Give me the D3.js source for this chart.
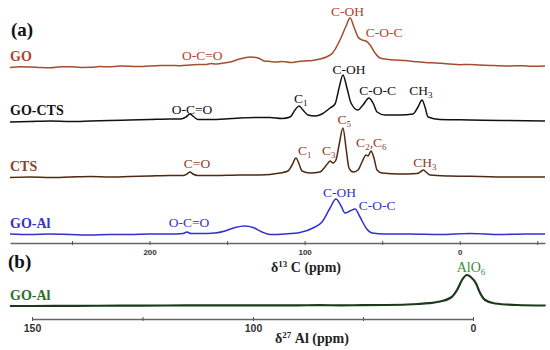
<!DOCTYPE html>
<html>
<head>
<meta charset="utf-8">
<script src="https://cdn.jsdelivr.net/npm/d3@7/dist/d3.min.js"></script>
<style>
    html, body { margin: 0; padding: 0; background: #fff; }
    svg { display: block; }
</style>
</head>
<body>
<div id="chart"></div>
<script>

// [ppm, intensity]
var goSpec = [
    [290, -0.5], [283, 0.3], [277, 0], [270, -0.6], [264, -0.8], [257, 0.2], [251, 0.3], [244, -0.4],
    [238, -0.3], [232, 0.4], [226, 0.2], [219, 0.9], [213, 0.8], [206, 0.4], [200, 1], [193, 1.5],
    [187, 1.6], [180, 1.2], [174, 2], [168, 2.4], [164, 2.5], [160, 3.6], [158, 3], [153, 3.8],
    [148, 5], [142, 8], [135, 10], [130, 9], [126, 6], [122, 5.5], [119, 5], [114, 5.5],
    [109, 4.5], [104, 5.5], [100, 6], [95, 6.5], [90, 8], [86, 10], [82, 14], [77.2, 27],
    [73.3, 41], [70.7, 49], [68.2, 40], [65.6, 30], [63, 27], [60.4, 26], [57.8, 22], [54.6, 14],
    [51.4, 9], [46, 7.5], [41.7, 7], [35, 6.5], [30, 5.5], [25.6, 5], [18, 4.2], [12, 3.8],
    [6.2, 3], [0, 2.3], [-6, 2.6], [-13, 2], [-20, 1.6], [-26, 1.2], [-32.5, 1], [-40, 1.3],
    [-47, 0.8], [-55, 1]
];

var goCtsSpec = [
    [290, -1], [277, -0.5], [264, 0], [251, -0.5], [238, 0], [226, 0.5], [213, 1], [200, 1.5],
    [187, 2], [180, 2], [176.5, 4], [173.9, 7], [171.3, 4], [168.8, 1.5], [161, 1.5], [151.3, 2],
    [141.7, 3], [132, 3.5], [122.3, 3.5], [114.6, 2.5], [109.4, 4], [106.2, 11], [103.6, 15], [101.1, 11],
    [97.8, 6], [93.3, 5], [88.8, 7], [83.6, 13], [80.4, 17], [77.8, 33], [75.3, 46], [72.7, 33],
    [70.1, 18], [65.6, 11], [62.4, 16], [58.5, 23], [55.9, 18], [53.3, 9], [48.2, 6], [38.5, 6],
    [30.1, 7], [26.9, 14], [24.3, 21], [22.4, 14], [20.4, 4], [12.7, 1.5], [-6.7, 1], [-26, 0.5],
    [-55, 0]
];

var ctsSpec = [
    [290, -0.5], [277, 0], [264, -0.5], [251, 0], [238, 0.5], [226, 0], [213, 0.5], [200, 1],
    [187, 1.5], [178.4, 1.5], [175.9, 3], [173.9, 5], [172, 3], [168.8, 1.5], [157.8, 1.5], [141.7, 2],
    [128.8, 2], [115.9, 4], [110.7, 6], [108.1, 12], [105.6, 19], [103.6, 13], [101.7, 6], [96.5, 4],
    [90.1, 5], [86.9, 10], [84.9, 14], [83.6, 16], [81.7, 14], [79.8, 17], [77.8, 32], [75.3, 49],
    [73.3, 29], [71.4, 9], [68.8, 5], [65.6, 7], [63, 15], [60.4, 22], [59.1, 21], [57.2, 26],
    [55.3, 19], [53.3, 7], [50.1, 4], [38.5, 3], [27.5, 3.5], [25, 5.5], [23.6, 7], [21.7, 5],
    [19.1, 2], [6.2, 1], [-13.1, 0.5], [-32.5, 0], [-55, 0]
];

var goAlSpec = [
    [290, 0], [277, -0.5], [264, 0], [251, -0.5], [238, -1], [226, -0.5], [213, -0.5], [200, 0],
    [187, 0], [178.4, 0.5], [175.9, 2], [173.3, 0.5], [167.5, 0.5], [157.8, 1], [151.3, 3], [144.9, 6.5],
    [138.4, 8], [133.3, 6.5], [127.5, 2], [122.3, -0.5], [112.7, 0], [103, 1.5], [94.6, 6], [88.8, 12],
    [83.6, 26], [79.8, 35], [76.5, 28], [74, 21], [70.7, 23], [67.5, 25], [64.3, 17], [60.4, 6],
    [56.5, 1], [48.2, 0], [32, 0], [12.7, -0.5], [-6.7, 0.5], [-26, -0.5], [-42.1, 0], [-55, 0]
];

var alSpec = [
    [155, 0], [150, 0], [140, 0.2], [130, 0.3], [120, 0.5], [110, 0.6], [100, 0.7], [90, 0.6],
    [80, 0.7], [70, 0.8], [60, 0.7], [50, 0.8], [40, 1], [30, 1.5], [25, 2], [20, 2.8],
    [15, 4.5], [10, 8.5], [7, 17], [5, 26], [2.7, 31], [1, 29], [-1.5, 22], [-3, 14],
    [-5.5, 6], [-10, 2.5], [-20, 1], [-33, 0.5]
];

var cTicks = [250, 200, 150, 100, 50, 0, -50];
var cTickLabels = [200, 100, 0];
var alTicks = [150, 125, 100, 50, 0];
var alTickLabels = [150, 100, 0];

// name, data, label colour, line colour, baseline
var traces = [
    { name: 'GO', data: goSpec, color: '#b3422c', line: '#a44e2e', base: 67, axis: 'c' },
    { name: 'GO-CTS', data: goCtsSpec, color: '#111', line: '#111', base: 121, axis: 'c' },
    { name: 'CTS', data: ctsSpec, color: '#8b4226', line: '#4e2a12', base: 177, axis: 'c' },
    { name: 'GO-Al', data: goAlSpec, color: '#3333cc', line: '#3030d0', base: 234, axis: 'c' },
    { name: 'GO-Al', data: alSpec, color: '#2c6e2c', line: '#1a3a1a', base: 306, axis: 'al' }
];

// peak labels: trace index, text ("_" = subscript), ppm, baseline
var peakLabels = [
    [0, 'O-C=O', 166, 60], [0, 'C-OH', 72.3, 16], [0, 'C-O-C', 48.8, 37],
    [1, 'O-C=O', 172.6, 114], [1, 'C_1', 102.5, 103], [1, 'C-OH', 71.4, 74], [1, 'C-O-C', 53, 95], [1, 'CH_3', 25, 95],
    [2, 'C=O', 169.4, 168], [2, 'C_1', 100, 155], [2, 'C_3', 84.5, 155], [2, 'C_5', 74.5, 124], [2, 'C_2,C_6', 57, 147], [2, 'CH_3', 22.5, 167],
    [3, 'O-C=O', 174.6, 227], [3, 'C-OH', 77.5, 197], [3, 'C-O-C', 53.3, 210],
    [4, 'AlO_6', 0.9, 272]
];

(function () {

    var W = 550, H = 350;
    var serif = '"Liberation Serif", "Times New Roman", serif';
    var sans = '"Liberation Sans", Arial, sans-serif';

    var svg = d3.select('#chart').append('svg')
        .attr('width', W)
        .attr('height', H);

    var xC = d3.scaleLinear().domain([290, -55]).range([10, 545]);
    // the Al axis is not evenly labelled in the figure
    var xAl = d3.scaleLinear().domain([150, 100, 0]).range([32, 253, 473]);

    function xFor(t) {
        return t.axis === 'al' ? xAl : xC;
    }

    // "C_2,C_6" -> C, sub 2, ",C", sub 6
    function addText(sel, str, subSize) {
        var parts = str.split(/(_\d)/).filter(function (p) { return p; });
        var shift = 0;
        parts.forEach(function (p) {
            if (p[0] === '_') {
                sel.append('tspan').attr('font-size', subSize).attr('dy', 3).text(p.slice(1));
                shift = -3;
            } else {
                sel.append('tspan').attr('dy', shift).text(p);
                shift = 0;
            }
        });
    }

    // spectra
    traces.forEach(function (t) {
        var x = xFor(t);
        var y = d3.scaleLinear().domain([0, 50]).range([t.base, t.base - 50]);
        var line = d3.line()
            .x(function (d) { return x(d[0]); })
            .y(function (d) { return y(d[1]); })
            .curve(d3.curveMonotoneX);
        svg.append('path')
            .datum(t.data)
            .attr('d', line)
            .attr('fill', 'none')
            .attr('stroke', t.line)
            .attr('stroke-width', t.axis === 'al' ? 2.2 : 1.5)
            .attr('stroke-linejoin', 'round');

        svg.append('text')
            .attr('x', 10)
            .attr('y', t.base - 6)
            .attr('font-family', serif)
            .attr('font-weight', 'bold')
            .attr('font-size', 14)
            .attr('fill', t.color)
            .text(t.name);
    });

    peakLabels.forEach(function (p) {
        var t = traces[p[0]];
        var txt = svg.append('text')
            .attr('x', xFor(t)(p[2]))
            .attr('y', p[3])
            .attr('text-anchor', 'middle')
            .attr('font-family', serif)
            .attr('font-size', p[0] === 4 ? 14 : 13.5)
            .attr('fill', t.axis === 'al' ? '#3b8b3b' : t.color);
        addText(txt, p[1], 9);
    });

    // axes
    function drawAxis(scale, ticks, labels, yPos, fontSize) {
        var axis = d3.axisBottom(scale)
            .tickValues(ticks)
            .tickSizeOuter(0)
            .tickSizeInner(2)
            .tickPadding(4)
            .tickFormat(function (d) { return labels.indexOf(d) >= 0 ? d : ''; });
        var g = svg.append('g')
            .attr('transform', 'translate(0,' + yPos + ')')
            .call(axis);
        g.select('.domain').attr('stroke', '#666').attr('stroke-width', 1.3);
        g.selectAll('.tick line').attr('stroke', '#555').attr('y1', -2).attr('y2', 2);
        g.selectAll('.tick text')
            .attr('font-family', sans)
            .attr('font-weight', 'bold')
            .attr('font-size', fontSize)
            .attr('fill', '#333');
        return g;
    }

    drawAxis(xC, cTicks, cTickLabels, 243, 8);
    drawAxis(xAl, alTicks, alTickLabels, 319, 10.5);

    function axisTitle(xPos, yPos, sup, rest) {
        var t = svg.append('text')
            .attr('x', xPos)
            .attr('y', yPos)
            .attr('font-family', serif)
            .attr('font-weight', 'bold')
            .attr('font-size', 14)
            .attr('fill', '#222');
        t.append('tspan').text('\u03b4');
        t.append('tspan').attr('font-size', 9).attr('dy', -5).text(sup);
        t.append('tspan').attr('dy', 5).text(rest);
    }

    axisTitle(271, 272, '13', ' C (ppm)');
    axisTitle(275, 343, '27', ' Al (ppm)');

    // panel letters
    svg.append('text')
        .attr('x', 11).attr('y', 36)
        .attr('font-family', serif).attr('font-weight', 'bold').attr('font-size', 19)
        .attr('fill', '#111')
        .text('(a)');
    svg.append('text')
        .attr('x', 8).attr('y', 268)
        .attr('font-family', serif).attr('font-weight', 'bold').attr('font-size', 19)
        .attr('fill', '#111')
        .text('(b)');

})();
</script>
</body>
</html>
